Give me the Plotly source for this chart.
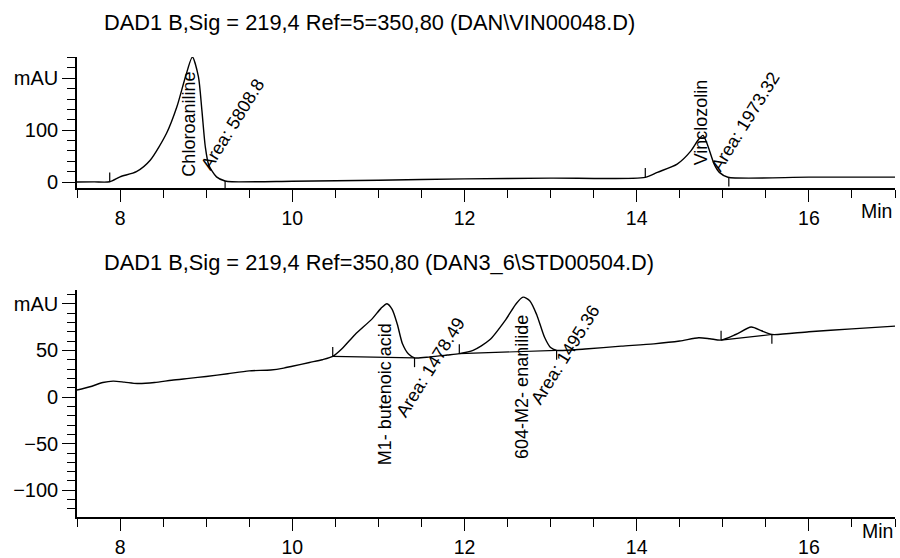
import numpy as np
import plotly.graph_objects as go

# ---------------- data ----------------
# Top chromatogram (DAN\VIN00048.D)
top_t = [7.5, 7.7, 7.88, 8.0, 8.19, 8.35, 8.54, 8.66, 8.76, 8.84, 8.91, 8.95, 8.99, 9.03, 9.12, 9.22,
         9.3, 10.0, 11.0, 12.0, 13.0, 14.1, 14.24, 14.47, 14.63, 14.72, 14.77, 14.82, 14.90, 14.96,
         15.06, 16.0, 17.0]
top_v = [0, 0.3, 0.5, 10, 20, 42, 94, 145, 203, 241, 203, 139, 68, 33, 10, 2,
         0.5, 1.5, 3.5, 6, 7.5, 9, 18.6, 34.5, 60, 82.5, 90, 73, 34.5, 18.6,
         9.3, 9.5, 9.5]
top_events = [(7.88, 1), (9.22, -1), (14.10, 1), (15.07, -1)]
top_title = r"DAD1 B,Sig = 219,4 Ref=5=350,80 (DAN\VIN00048.D)"
top_peaks = [("Chloroaniline", 8.79, 110.8), ("Vinclozolin", 14.75, 115.5)]
top_areas = [("Area: 5808.8", 9.31, 111.8), ("Area: 1973.32", 15.26, 115.5)]

# Bottom chromatogram (DAN3_6\STD00504.D)
bot_t = [7.5, 7.65, 7.8, 7.92, 8.05, 8.2, 8.4, 8.6, 8.8, 9.0, 9.25, 9.5, 9.75, 9.9, 10.0, 10.2, 10.35,
         10.47, 10.58, 10.73, 10.93, 11.03, 11.1, 11.16, 11.22, 11.28, 11.35, 11.42, 11.6, 11.8,
         11.94, 12.1, 12.29, 12.48, 12.6, 12.68, 12.76, 12.84, 12.93, 13.0, 13.07, 13.4, 13.82,
         14.2, 14.5, 14.72, 14.85, 14.98, 15.15, 15.33, 15.45, 15.57, 16.0, 16.5, 17.0]
bot_v = [7.5, 11, 15.5, 17, 16, 14.5, 15.5, 18, 20, 22, 25, 28, 29, 31, 33, 37, 40,
         43.5, 52, 67, 84, 95, 100, 94, 78, 57, 46, 42, 43, 45,
         46.5, 50, 61, 83, 100, 107, 103, 88, 64, 53, 50, 51.5, 54.5,
         57, 60, 63.5, 62.5, 61, 67, 75, 71, 67, 70, 73, 76]
bot_events = [(10.47, 1), (11.42, -1), (11.94, 1), (13.07, -1), (14.98, 1), (15.57, -1)]
bot_baselines = [(10.47, 11.42), (11.94, 13.07), (14.98, 15.57)]
bot_title = r"DAD1 B,Sig = 219,4 Ref=350,80 (DAN3_6\STD00504.D)"
bot_peaks = [("M1- butenoic acid", 11.08, 3.2), ("604-M2- enanilide", 12.67, 11.0)]
bot_areas = [("Area: 1478.49", 11.61, 32.0), ("Area: 1495.36", 13.17, 45.0)]

FONT = "Liberation Sans, Arial, sans-serif"
LW = 1.4

fig = go.Figure()

fig.add_trace(go.Scatter(x=top_t, y=top_v, mode="lines", line=dict(color="black", width=LW, shape="spline", smoothing=0.7),
                         xaxis="x", yaxis="y", hoverinfo="skip"))
fig.add_trace(go.Scatter(x=bot_t, y=bot_v, mode="lines", line=dict(color="black", width=LW, shape="spline", smoothing=0.7),
                         xaxis="x2", yaxis="y2", hoverinfo="skip"))

# integration baselines (bottom)
bx, by = [], []
for a, b in bot_baselines:
    bx += [a, b, None]
    by += [float(np.interp(a, bot_t, bot_v)), float(np.interp(b, bot_t, bot_v)), None]
fig.add_trace(go.Scatter(x=bx, y=by, mode="lines", line=dict(color="black", width=1.2), xaxis="x2", yaxis="y2", hoverinfo="skip"))

# event tick marks
def event_ticks(events, t, v, L):
    xs, ys = [], []
    for te, d in events:
        y0 = float(np.interp(te, t, v))
        xs += [te, te, None]
        ys += [y0, y0 + d * L, None]
    return xs, ys

ex, ey = event_ticks(top_events, top_t, top_v, 18)
fig.add_trace(go.Scatter(x=ex, y=ey, mode="lines", line=dict(color="black", width=1.2), xaxis="x", yaxis="y", hoverinfo="skip"))
ex, ey = event_ticks(bot_events, bot_t, bot_v, 10)
fig.add_trace(go.Scatter(x=ex, y=ey, mode="lines", line=dict(color="black", width=1.2), xaxis="x2", yaxis="y2", hoverinfo="skip"))

xdom = [77 / 900, 895 / 900]
common_x = dict(range=[7.5, 17], showline=True, linecolor="black", linewidth=1.6, ticks="outside", ticklen=12,
                tickwidth=1.4, tickcolor="black", dtick=2, tick0=0, showgrid=False, zeroline=False,
                tickfont=dict(family=FONT, size=19.5, color="black"), automargin=False, domain=xdom,
                minor=dict(ticks="outside", ticklen=8, dtick=0.5, tick0=0, tickcolor="black", tickwidth=1.2, showgrid=False))
common_y = dict(showline=True, linecolor="black", linewidth=1.6, ticks="outside", ticklen=13, tickwidth=1.4,
                tickcolor="black", showgrid=False, zeroline=False, automargin=False,
                tickfont=dict(family=FONT, size=20, color="black"))

fig.update_layout(
    width=900, height=558, margin=dict(l=0, r=0, t=0, b=0),
    paper_bgcolor="white", plot_bgcolor="white", showlegend=False,
    xaxis=dict(**common_x, anchor="y"),
    yaxis=dict(**common_y, anchor="x", range=[-11.5, 241], domain=[1 - 188 / 558, 1 - 57 / 558],
               dtick=100, tick0=0, labelalias={"200": "mAU"},
               minor=dict(ticks="outside", ticklen=8, dtick=20, tick0=0, tickcolor="black", tickwidth=1.2, showgrid=False)),
    xaxis2=dict(**common_x, anchor="y2"),
    yaxis2=dict(**common_y, anchor="x2", range=[-128.6, 114.7], domain=[1 - 517 / 558, 1 - 290 / 558],
                dtick=50, tick0=0, labelalias={"100": "mAU"},
                minor=dict(ticks="outside", ticklen=8, dtick=10, tick0=0, tickcolor="black", tickwidth=1.2, showgrid=False)),
)

ann = []
tf = dict(family=FONT, size=21.8, color="black")
ann.append(dict(text=top_title, x=102 / 900, y=1 - 22 / 558, xref="paper", yref="paper", xanchor="left", yanchor="middle",
                showarrow=False, font=tf))
ann.append(dict(text=bot_title, x=102 / 900, y=1 - 262 / 558, xref="paper", yref="paper", xanchor="left", yanchor="middle",
                showarrow=False, font=tf))
ann.append(dict(text="Min", x=894 / 900, y=1 - 211 / 558, xref="paper", yref="paper", xanchor="right", yanchor="middle",
                showarrow=False, font=dict(family=FONT, size=19.5, color="black")))
ann.append(dict(text="Min", x=895 / 900, y=1 - 531 / 558, xref="paper", yref="paper", xanchor="right", yanchor="middle",
                showarrow=False, font=dict(family=FONT, size=19.5, color="black")))
lf = dict(family=FONT, size=18, color="black")
for name, x, y in top_peaks:
    ann.append(dict(text=name, x=x, y=y, xref="x", yref="y", textangle=-90, showarrow=False, font=lf,
                    xanchor="center", yanchor="middle"))
for name, x, y in top_areas:
    ann.append(dict(text=name, x=x, y=y, xref="x", yref="y", textangle=-58, showarrow=False, font=lf,
                    xanchor="center", yanchor="middle"))
for name, x, y in bot_peaks:
    ann.append(dict(text=name, x=x, y=y, xref="x2", yref="y2", textangle=-90, showarrow=False, font=lf,
                    xanchor="center", yanchor="middle"))
for name, x, y in bot_areas:
    ann.append(dict(text=name, x=x, y=y, xref="x2", yref="y2", textangle=-58, showarrow=False, font=lf,
                    xanchor="center", yanchor="middle"))
fig.update_layout(annotations=ann)

fig.write_html("out.html", config={"displayModeBar": False},
               post_script="document.body.style.margin='0px';document.body.style.overflow='hidden';")
